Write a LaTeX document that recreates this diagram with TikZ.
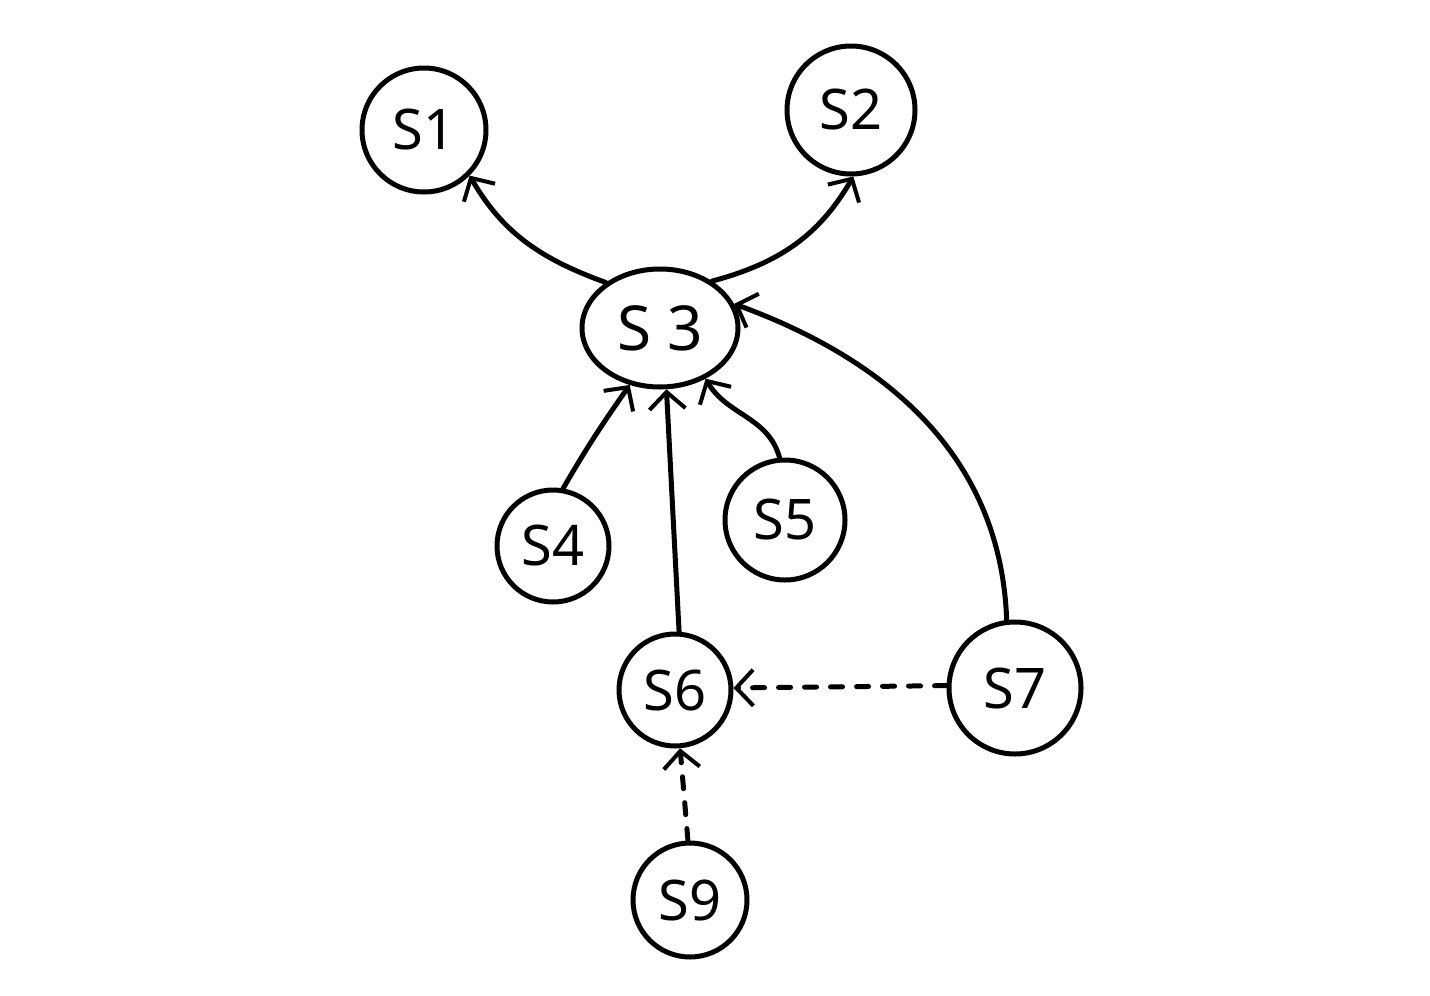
\documentclass[tikz,border=0pt]{standalone}
\usepackage{fontspec}
\setmainfont{Noto Sans}
\usetikzlibrary{arrows.meta,shapes.geometric}
\begin{document}
\begin{tikzpicture}[x=1pt,y=1pt,
  state/.style={draw,circle,line width=5pt,minimum size=#1,inner sep=0pt,
    font=\fontsize{56}{60}\selectfont},
  link/.style={line width=5pt,line cap=round,
    -{Straight Barb[length=17pt,width=36pt,line width=4pt]}},
  dlink/.style={link,dash pattern=on 12pt off 14pt}]
\useasboundingbox[fill=white] (0,0) rectangle (1430,-996);
% states
\node[state=124pt] (S1) at (424,-130) {S1};
\node[state=128pt] (S2) at (851,-110) {S2};
\node[draw,ellipse,line width=5pt,minimum width=156pt,minimum height=118pt,
  inner sep=0pt,font=\fontsize{62}{66}\selectfont] (S3) at (660,-328) {S 3};
\node[state=112pt] (S4) at (553,-546) {S4};
\node[state=120pt] (S5) at (785,-520) {S5};
\node[state=112pt] (S6) at (675,-690) {S6};
\node[state=132pt] (S7) at (1015,-688) {S7};
\node[state=114pt] (S9) at (690,-900) {S9};

% transitions
\draw[link] (S3.140) to[out=160,in=-60] (S1.-45);
\draw[link] (S3.42) to[out=15,in=-120] (S2.-88);
\draw[link] (S4.80) to[out=60,in=-125] (S3.-118);
\draw[link] (S6.86) -- (S3.-84);
\draw[link] (S5.95) to[out=105,in=-60] (S3.-48);
\draw[link] (S7.97) to[out=92,in=-20] (S3.18);
\draw[dlink] (S7.178) -- (S6.2);
\draw[dlink] (S9.92) -- (S6.-85);
\end{tikzpicture}
\end{document}
